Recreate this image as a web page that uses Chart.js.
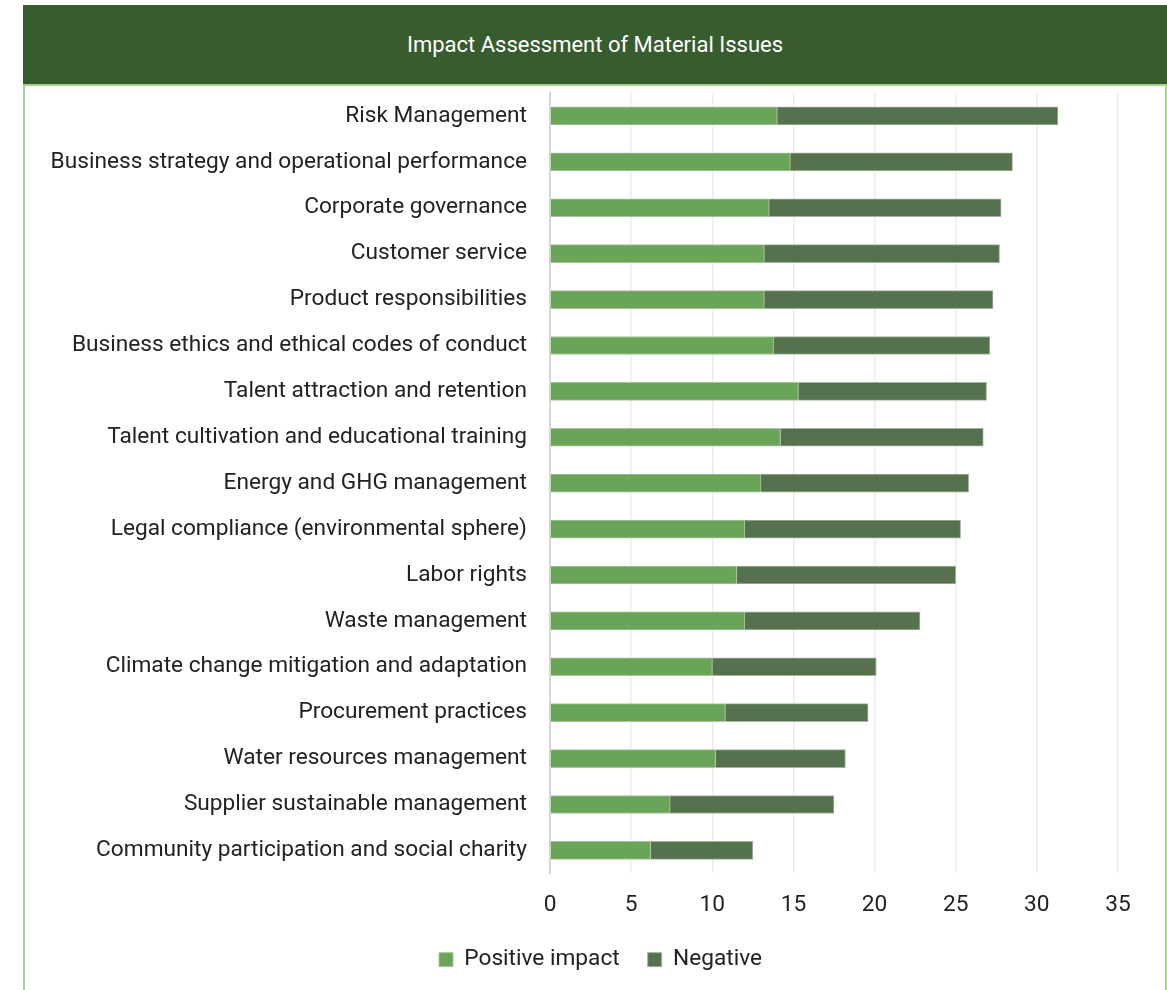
<!DOCTYPE html>
<html>
<head>
<meta charset="utf-8">
<script src="https://cdn.jsdelivr.net/npm/chart.js@4"></script>
<style>
  body { margin: 0; background: #fff; font-family: Roboto, sans-serif; }
  #wrap { position: absolute; left: 23px; top: 5px; width: 1144px; }
  #head { height: 79px; background: #375D2F; color: #fff; font-size: 22px;
          display: flex; align-items: center; justify-content: center; }
  #box { height: 906px; border: 2px solid #A9D18E; border-bottom: none; box-sizing: border-box; }
  #box div { position: relative; width: 1140px; height: 904px; }
</style>
</head>
<body>
<div id="wrap">
  <div id="head">Impact Assessment of Material Issues</div>
  <div id="box"><div><canvas id="myChart"></canvas></div></div>
</div>
<script>
// issues, top to bottom
var issues = [
  'Risk Management',
  'Business strategy and operational performance',
  'Corporate governance',
  'Customer service',
  'Product responsibilities',
  'Business ethics and ethical codes of conduct',
  'Talent attraction and retention',
  'Talent cultivation and educational training',
  'Energy and GHG management',
  'Legal compliance (environmental sphere)',
  'Labor rights',
  'Waste management',
  'Climate change mitigation and adaptation',
  'Procurement practices',
  'Water resources management',
  'Supplier sustainable management',
  'Community participation and social charity'
];

var positive = [14.0, 14.8, 13.5, 13.2, 13.2, 13.8, 15.3, 14.2, 13.0, 12.0, 11.5, 12.0, 10.0, 10.8, 10.2, 7.4, 6.2];
var negative = [17.3, 13.7, 14.3, 14.5, 14.1, 13.3, 11.6, 12.5, 12.8, 13.3, 13.5, 10.8, 10.1, 8.8, 8.0, 10.1, 6.3];

var xTicks = [0, 5, 10, 15, 20, 25, 30, 35];

// 17pt text everywhere
var fontSize = 22.67;

Chart.defaults.font.family = 'Roboto, sans-serif';
Chart.defaults.color = '#222';

// nudge the legend a bit right, it sits under the plot in the original
const legendShift = {
  id: 'legendShift',
  afterLayout: function(chart) {
    if (chart.legend) {
      chart.legend.left += 24;
      chart.legend.right += 24;
    }
  }
};

const data = {
  labels: issues,
  datasets: [{
    label: 'Positive impact',
    data: positive,
    backgroundColor: '#6AA459',
    borderColor: '#A9C49F',
    borderWidth: 1,
    barThickness: 18
  },
  {
    label: 'Negative',
    data: negative,
    backgroundColor: '#55714D',
    borderColor: '#A3B59D',
    borderWidth: 1,
    barThickness: 18
  }]
};

const config = {
  type: 'bar',
  data: data,
  plugins: [legendShift],
  options: {
    indexAxis: 'y',
    responsive: true,
    maintainAspectRatio: false,
    animation: false,
    layout: { padding: { left: 10, right: 47, top: 7, bottom: 9 } },
    plugins: {
      legend: {
        position: 'bottom',
        labels: { boxWidth: 14, boxHeight: 14, font: { size: fontSize }, padding: 28 }
      },
      tooltip: { enabled: false }
    },
    scales: {
      x: {
        stacked: true,
        min: 0,
        max: 35,
        afterBuildTicks: function(s) { s.ticks = xTicks.map(function(v) { return { value: v }; }); },
        afterFit: function(s) { s.height = 47; s.paddingLeft = 0; s.paddingRight = 0; },
        ticks: { font: { size: fontSize }, padding: 18 },
        grid: { color: '#ECECEC', lineWidth: 1.5, drawTicks: false },
        border: { display: false }
      },
      y: {
        stacked: true,
        afterFit: function(s) { s.width = 515; s.paddingTop = 0; s.paddingBottom = 0; },
        ticks: { font: { size: fontSize }, padding: 23, color: '#222' },
        grid: { display: false, drawTicks: false },
        border: { color: '#D6D6D6', width: 2 }
      }
    }
  }
};

const myChart = new Chart(document.getElementById('myChart'), config);
</script>
</body>
</html>
